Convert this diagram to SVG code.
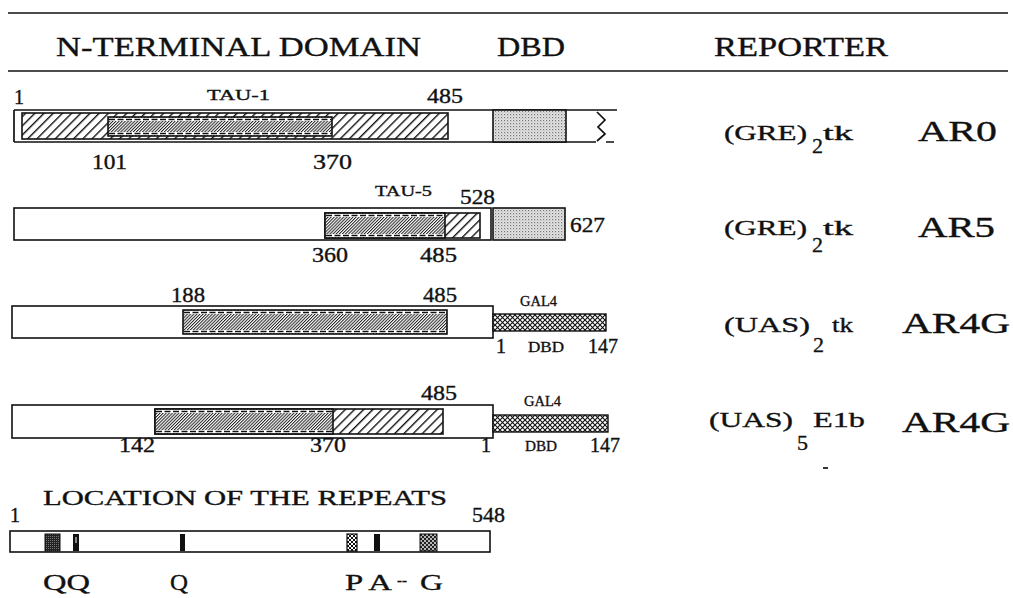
<svg xmlns="http://www.w3.org/2000/svg" width="1013" height="598" viewBox="0 0 1013 598">
<style>
text{font-family:"Liberation Serif","Times New Roman",serif;fill:#111;stroke:#111;stroke-width:0.35px}
.hd{font-size:28px}
.num{font-size:20px}
.sm{font-size:15px}
.rep{font-size:22px}
.ar{font-size:29px}
.lab{font-size:24px}
.box{fill:#fff;stroke:#111;stroke-width:1.6}
.ln{stroke:#111;stroke-width:1.7;fill:none}
.coarse{fill:url(#coarse);stroke:#111;stroke-width:1.6}
.dense{fill:url(#dense);stroke:#111;stroke-width:1.6}
.stip{fill:url(#stip);stroke:#111;stroke-width:1.6}
.xh{fill:url(#xh);stroke:#111;stroke-width:1.4}
.dash{stroke:#111;stroke-width:1.3;stroke-dasharray:6 2.5;fill:none}
.band{fill:#fff}
</style>
<defs>
<pattern id="coarse" width="6.5" height="6.5" patternUnits="userSpaceOnUse" patternTransform="rotate(45)">
<rect width="6.5" height="6.5" fill="#fff"/><line x1="0.7" y1="0" x2="0.7" y2="6.5" stroke="#111" stroke-width="1.4"/>
</pattern>
<pattern id="dense" width="2.2" height="2.2" patternUnits="userSpaceOnUse" patternTransform="rotate(45)">
<rect width="2.2" height="2.2" fill="#fff"/><line x1="0.5" y1="0" x2="0.5" y2="2.2" stroke="#222" stroke-width="1"/>
</pattern>
<pattern id="stip" width="3" height="3" patternUnits="userSpaceOnUse">
<rect width="3" height="3" fill="#e4e4e4"/><rect x="0" y="0" width="1.2" height="1.2" fill="#777"/><rect x="1.5" y="1.5" width="1" height="1" fill="#aaa"/>
</pattern>
<pattern id="xh" width="5" height="5" patternUnits="userSpaceOnUse">
<rect width="5" height="5" fill="#fff"/><path d="M0,0L5,5M5,0L0,5" stroke="#111" stroke-width="1.1"/>
</pattern>
<pattern id="dark" width="2" height="2" patternUnits="userSpaceOnUse">
<rect width="2" height="2" fill="#222"/><rect width="1" height="1" fill="#777"/>
</pattern>
<pattern id="dots" width="4" height="4" patternUnits="userSpaceOnUse">
<rect width="4" height="4" fill="#222"/><circle cx="1" cy="1" r="0.9" fill="#fff"/><circle cx="3" cy="3" r="0.9" fill="#fff"/>
</pattern>
<pattern id="chain" width="4" height="4" patternUnits="userSpaceOnUse">
<rect width="4" height="4" fill="#fff"/><path d="M0,2L2,0L4,2L2,4Z" fill="none" stroke="#111" stroke-width="1"/>
</pattern>
</defs>

<g id="header">
<line class="ln" x1="8" y1="13" x2="1008" y2="13"/>
<line class="ln" x1="8" y1="71" x2="1008" y2="71"/>
<text class="hd" x="56" y="56" textLength="365" lengthAdjust="spacingAndGlyphs">N-TERMINAL DOMAIN</text>
<text class="hd" x="497" y="56" textLength="68" lengthAdjust="spacingAndGlyphs">DBD</text>
<text class="hd" x="714" y="56" textLength="174" lengthAdjust="spacingAndGlyphs">REPORTER</text>
</g>

<g id="ar0">
<path class="ln" d="M566,110H617M14,110H566M14,142H596M606,142H614M14,110V142"/>
<rect class="stip" x="493" y="110" width="73" height="32"/>
<polyline class="ln" points="597,112 605,120 598,127 605,134 597,141"/>
<rect class="coarse" x="22" y="113" width="426" height="26"/>
<rect class="dense" x="108" y="117" width="224" height="19"/>
<rect class="band" x="109" y="118" width="222" height="3"/>
<rect class="band" x="109" y="132" width="222" height="3"/>
<line class="dash" x1="109" y1="119.5" x2="331" y2="119.5"/>
<line class="dash" x1="109" y1="133.5" x2="331" y2="133.5"/>
<text class="num" x="14" y="104">1</text>
<text class="sm" x="207" y="100" textLength="63" lengthAdjust="spacingAndGlyphs">TAU-1</text>
<text class="num" x="427" y="103" textLength="36" lengthAdjust="spacingAndGlyphs">485</text>
<text class="num" x="92" y="169" textLength="35" lengthAdjust="spacingAndGlyphs">101</text>
<text class="num" x="313" y="169" textLength="39" lengthAdjust="spacingAndGlyphs">370</text>
<text class="rep" x="724" y="140" textLength="83" lengthAdjust="spacingAndGlyphs">(GRE)</text>
<text class="rep" x="812" y="153">2</text>
<text class="rep" x="823" y="140" textLength="30" lengthAdjust="spacingAndGlyphs">tk</text>
<text class="ar" x="918" y="141" textLength="79" lengthAdjust="spacingAndGlyphs">AR0</text>
</g>

<g id="ar5">
<rect class="box" x="14" y="208" width="477" height="32"/>
<rect class="stip" x="493" y="208" width="72" height="32"/>
<rect class="coarse" x="325" y="213" width="155" height="25"/>
<rect class="dense" x="325" y="213" width="120" height="25"/>
<rect class="band" x="326" y="214" width="118" height="3"/>
<rect class="band" x="326" y="234" width="118" height="3"/>
<line class="dash" x1="326" y1="215.5" x2="444" y2="215.5"/>
<line class="dash" x1="326" y1="235.5" x2="444" y2="235.5"/>
<text class="sm" x="375" y="196" textLength="57" lengthAdjust="spacingAndGlyphs">TAU-5</text>
<text class="num" x="460" y="204" textLength="35" lengthAdjust="spacingAndGlyphs">528</text>
<text class="num" x="570" y="232" textLength="35" lengthAdjust="spacingAndGlyphs">627</text>
<text class="num" x="312" y="262" textLength="36" lengthAdjust="spacingAndGlyphs">360</text>
<text class="num" x="420" y="262" textLength="37" lengthAdjust="spacingAndGlyphs">485</text>
<text class="rep" x="724" y="235" textLength="83" lengthAdjust="spacingAndGlyphs">(GRE)</text>
<text class="rep" x="812" y="252">2</text>
<text class="rep" x="823" y="235" textLength="30" lengthAdjust="spacingAndGlyphs">tk</text>
<text class="ar" x="918" y="237" textLength="77" lengthAdjust="spacingAndGlyphs">AR5</text>
</g>

<g id="ar4g-1">
<rect class="box" x="12" y="306" width="481" height="32"/>
<rect class="xh" x="493" y="314" width="113" height="17"/>
<rect class="dense" x="183" y="310" width="264" height="24"/>
<rect class="band" x="184" y="311" width="262" height="3"/>
<rect class="band" x="184" y="330" width="262" height="3"/>
<line class="dash" x1="184" y1="312.5" x2="446" y2="312.5"/>
<line class="dash" x1="184" y1="331.5" x2="446" y2="331.5"/>
<text class="num" x="171" y="302" textLength="34" lengthAdjust="spacingAndGlyphs">188</text>
<text class="num" x="423" y="302" textLength="34" lengthAdjust="spacingAndGlyphs">485</text>
<text class="sm" x="520" y="306" textLength="37" lengthAdjust="spacingAndGlyphs">GAL4</text>
<text class="num" x="496" y="353">1</text>
<text class="sm" x="528" y="352" textLength="36" lengthAdjust="spacingAndGlyphs">DBD</text>
<text class="num" x="588" y="353" textLength="30" lengthAdjust="spacingAndGlyphs">147</text>
<text class="rep" x="724" y="332" textLength="86" lengthAdjust="spacingAndGlyphs">(UAS)</text>
<text class="rep" x="813" y="352">2</text>
<text class="rep" x="832" y="332" textLength="21" lengthAdjust="spacingAndGlyphs">tk</text>
<text class="ar" x="902" y="333" textLength="108" lengthAdjust="spacingAndGlyphs">AR4G</text>
</g>

<g id="ar4g-2">
<rect class="box" x="12" y="405" width="481" height="33"/>
<rect class="xh" x="493" y="415" width="115" height="17"/>
<rect class="coarse" x="155" y="409" width="288" height="25"/>
<rect class="dense" x="155" y="409" width="178" height="25"/>
<rect class="band" x="156" y="410" width="176" height="3"/>
<rect class="band" x="156" y="430" width="176" height="3"/>
<line class="dash" x1="156" y1="411.5" x2="332" y2="411.5"/>
<line class="dash" x1="156" y1="431.5" x2="332" y2="431.5"/>
<text class="num" x="421" y="400" textLength="36" lengthAdjust="spacingAndGlyphs">485</text>
<text class="sm" x="524" y="406" textLength="37" lengthAdjust="spacingAndGlyphs">GAL4</text>
<text class="num" x="119" y="452" textLength="36" lengthAdjust="spacingAndGlyphs">142</text>
<text class="num" x="310" y="452" textLength="36" lengthAdjust="spacingAndGlyphs">370</text>
<text class="num" x="481" y="452">1</text>
<text class="sm" x="525" y="451" textLength="32" lengthAdjust="spacingAndGlyphs">DBD</text>
<text class="num" x="590" y="452" textLength="30" lengthAdjust="spacingAndGlyphs">147</text>
<text class="rep" x="709" y="427" textLength="84" lengthAdjust="spacingAndGlyphs">(UAS)</text>
<text class="rep" x="797" y="450">5</text>
<text class="rep" x="813" y="427" textLength="52" lengthAdjust="spacingAndGlyphs">E1b</text>
<text class="ar" x="902" y="432" textLength="108" lengthAdjust="spacingAndGlyphs">AR4G</text>
<line class="ln" x1="823" y1="468" x2="828" y2="468" stroke-width="1.2"/>
</g>

<g id="repeats">
<text class="rep" x="43" y="505" textLength="404" lengthAdjust="spacingAndGlyphs">LOCATION OF THE REPEATS</text>
<text class="num" x="10" y="522">1</text>
<text class="num" x="472" y="522" textLength="33" lengthAdjust="spacingAndGlyphs">548</text>
<rect class="box" x="10" y="531" width="480" height="21"/>
<rect x="45" y="534" width="15" height="17" fill="url(#dark)" stroke="#111" stroke-width="1"/>
<rect x="73" y="534" width="6" height="17" fill="#111"/>
<line x1="76" y1="537" x2="76" y2="543" stroke="#fff" stroke-width="1"/>
<rect x="180" y="534" width="5" height="17" fill="#111"/>
<rect x="347" y="534" width="10" height="17" fill="url(#chain)" stroke="#111" stroke-width="1.2"/>
<rect x="374" y="534" width="6" height="17" fill="#111"/>
<rect x="420" y="534" width="17" height="17" fill="url(#dots)" stroke="#111" stroke-width="1"/>
<text class="lab" x="43" y="590" textLength="47" lengthAdjust="spacingAndGlyphs">QQ</text>
<text class="lab" x="170" y="590" textLength="18" lengthAdjust="spacingAndGlyphs">Q</text>
<text class="lab" x="345" y="590" textLength="47" lengthAdjust="spacingAndGlyphs">P A</text>
<text class="sm" x="397" y="585" textLength="10" lengthAdjust="spacingAndGlyphs">--</text>
<text class="lab" x="420" y="590" textLength="23" lengthAdjust="spacingAndGlyphs">G</text>
</g>

<g id="connectors"/>
</svg>
